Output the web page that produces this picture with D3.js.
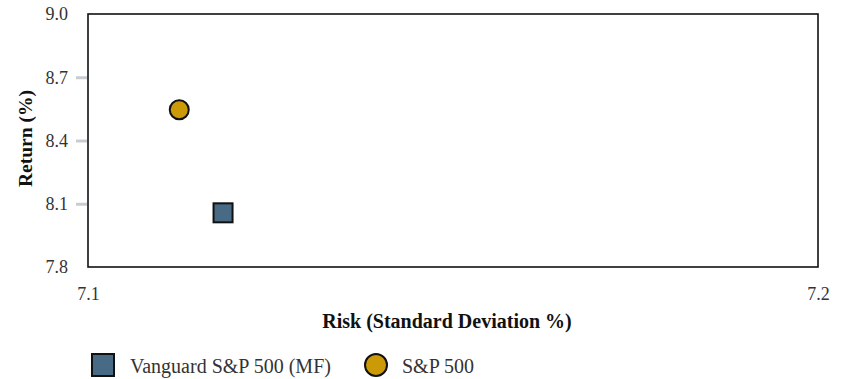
<!DOCTYPE html>
<html>
<head>
<meta charset="utf-8">
<script src="https://cdn.jsdelivr.net/npm/d3@7"></script>
<style>
  html, body { margin: 0; padding: 0; background: #fff; }
  svg { display: block; }
</style>
</head>
<body>
<svg id="chart" width="844" height="379"></svg>
<script>
// Risk / return of each fund
const seriesNames = ["Vanguard S&P 500 (MF)", "S&P 500"];
const riskValues = [7.1185, 7.1125];
const returnValues = [8.057, 8.546];
const seriesColors = ["#486a84", "#cc9a06"];
const seriesShapes = ["square", "circle"];

const xTicks = [7.1, 7.2];
const yTicks = [7.8, 8.1, 8.4, 8.7, 9.0];

const FONT = "'Liberation Serif', Tinos, 'Times New Roman', 'DejaVu Serif', serif";

const svg = d3.select("#chart");
const margin = { left: 88, right: 26, top: 14, bottom: 112 };
const W = 844, H = 379;
const plotW = W - margin.left - margin.right;
const plotH = H - margin.top - margin.bottom;

const x = d3.scaleLinear().domain([7.1, 7.2]).range([margin.left, margin.left + plotW]);
const y = d3.scaleLinear().domain([7.8, 9.0]).range([margin.top + plotH, margin.top]);

// Y axis: grey tick marks and labels
const yAxis = svg.append("g")
  .attr("transform", `translate(${margin.left},0)`)
  .call(d3.axisLeft(y).tickValues(yTicks).tickFormat(d3.format(".1f")).tickSize(12).tickPadding(8));
yAxis.attr("font-family", FONT);
yAxis.select(".domain").remove();
yAxis.selectAll(".tick line")
  .attr("stroke", "#c8ccd0").attr("stroke-width", 3)
  .attr("x2", -12).attr("x1", -1)
  .style("display", d => (d === 7.8 || d === 9.0) ? "none" : null);
yAxis.selectAll(".tick text").attr("font-size", 18).attr("fill", "#333").attr("dy", "0.32em");

// X axis: labels only
const xAxis = svg.append("g")
  .attr("transform", `translate(0,${margin.top + plotH})`)
  .call(d3.axisBottom(x).tickValues(xTicks).tickFormat(d3.format(".1f")).tickSize(0).tickPadding(20));
xAxis.attr("font-family", FONT);
xAxis.select(".domain").remove();
xAxis.selectAll(".tick text").attr("font-size", 18).attr("fill", "#333");

// Plot frame
svg.append("rect")
  .attr("x", margin.left).attr("y", margin.top)
  .attr("width", plotW).attr("height", plotH)
  .attr("fill", "none").attr("stroke", "#111").attr("stroke-width", 1.6);

// Axis titles
svg.append("text")
  .attr("x", 447).attr("y", 328)
  .attr("font-family", FONT).attr("fill", "#111")
  .attr("text-anchor", "middle").attr("font-weight", "bold").attr("font-size", 20)
  .text("Risk (Standard Deviation %)");
svg.append("text")
  .attr("transform", `translate(32,${margin.top + plotH / 2 - 2}) rotate(-90)`)
  .attr("font-family", FONT).attr("fill", "#111")
  .attr("text-anchor", "middle").attr("font-weight", "bold").attr("font-size", 19.5)
  .text("Return (%)");

// Points
const pts = seriesNames.map((n, i) => ({ name: n, risk: riskValues[i], ret: returnValues[i], color: seriesColors[i], shape: seriesShapes[i] }));
const markSize = 19;
svg.append("g").selectAll("g").data(pts).join("g").each(function (d) {
  const g = d3.select(this);
  const cx = x(d.risk), cy = y(d.ret);
  if (d.shape === "square") {
    g.append("rect").attr("x", cx - markSize / 2).attr("y", cy - markSize / 2)
      .attr("width", markSize).attr("height", markSize)
      .attr("fill", d.color).attr("stroke", "#111").attr("stroke-width", 2);
  } else {
    g.append("circle").attr("cx", cx).attr("cy", cy).attr("r", markSize / 2)
      .attr("fill", d.color).attr("stroke", "#111").attr("stroke-width", 2);
  }
});

// Legend
const legendY = 365;
const legendItems = [
  { x: 103, tx: 130 },
  { x: 376, tx: 402 }
];
const legSize = 22;
pts.forEach((d, i) => {
  const li = legendItems[i];
  if (d.shape === "square") {
    svg.append("rect").attr("x", li.x - legSize / 2).attr("y", legendY - legSize / 2)
      .attr("width", legSize).attr("height", legSize)
      .attr("fill", d.color).attr("stroke", "#111").attr("stroke-width", 2);
  } else {
    svg.append("circle").attr("cx", li.x).attr("cy", legendY).attr("r", legSize / 2)
      .attr("fill", d.color).attr("stroke", "#111").attr("stroke-width", 2);
  }
  svg.append("text").attr("x", li.tx).attr("y", legendY + 8)
    .attr("font-family", FONT)
    .attr("font-size", 20).attr("fill", "#333").text(d.name);
});
</script>
</body>
</html>
